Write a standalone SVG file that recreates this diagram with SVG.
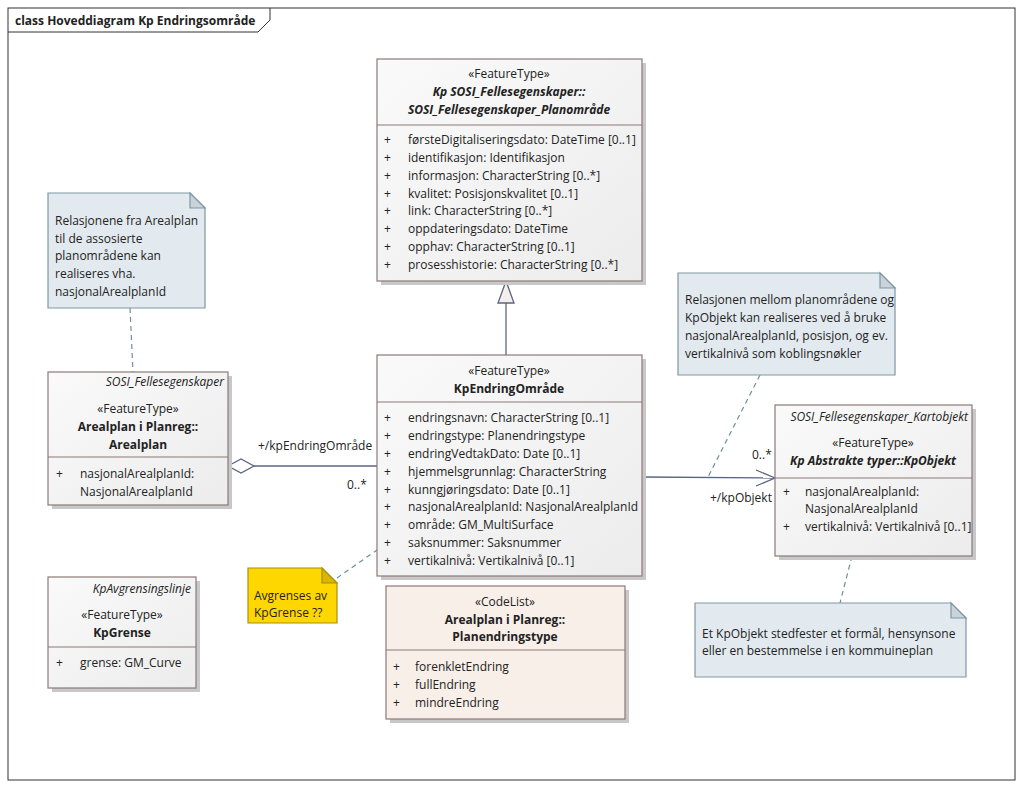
<svg xmlns="http://www.w3.org/2000/svg" width="1023" height="789" viewBox="0 0 1023 789">
<style>
text{font-family:"Open Sans","Liberation Sans",sans-serif;font-size:12px;fill:#222}
.c{text-anchor:middle}
.b{font-weight:bold}
.i{font-style:italic}
.cls{fill:url(#g);stroke:#8c7878;stroke-width:1.2}
.cl2{fill:#f8efe9;stroke:#8c7878;stroke-width:1.2}
.sh{fill:#c8c8c8}
.dv{stroke:#8c7878;stroke-width:1.2}
.note{fill:#e2eaef;stroke:#7e97a3;stroke-width:1.2}
.fold{fill:#c9d3d9;stroke:#7e97a3;stroke-width:1.2}
.dash{stroke:#6f8f9e;stroke-width:1.2;stroke-dasharray:5,4;fill:none}
.ln{stroke:#5a6680;stroke-width:1.3;fill:none}
</style>
<defs>
<linearGradient id="g" x1="0" y1="0" x2="1" y2="1"><stop offset="0" stop-color="#fafafa"/><stop offset="1" stop-color="#ececec"/></linearGradient>
</defs>
<rect width="1023" height="789" fill="#fff"/>
<g id="frame">
<rect x="8" y="8" width="1007" height="772" fill="none" stroke="#333"/>
<path d="M8 32 H258 L270 20 V8" fill="none" stroke="#333"/>
<text x="15" y="25" class="b">class Hoveddiagram Kp Endringsområde</text>
</g>
<g id="connectors">
<path class="ln" d="M506 355 V303"/>
<path d="M506 281 L498 303 H514 Z" fill="#f5efec" stroke="#5a6680" stroke-width="1.3"/>
<path class="ln" d="M254 466 H377"/>
<path d="M228 466 L241 459 L254 466 L241 473 Z" fill="#fff" stroke="#5a6680" stroke-width="1.3"/>
<text x="258" y="450">+/kpEndringOmråde</text>
<text x="347" y="489">0..*</text>
<path class="ln" d="M642 477 L775 478"/>
<path class="ln" d="M756 470 L775 478 L756 486"/>
<text x="752" y="459">0..*</text>
<text x="710" y="502">+/kpObjekt</text>
<path class="dash" d="M130 308 L133 372"/>
<path class="dash" d="M337 578 L377 550"/>
<path class="dash" d="M760 375 L708 477"/>
<path class="dash" d="M852 556 L840 603"/>
</g>
<g id="planomrade">
<rect class="sh" x="381" y="63" width="265" height="222"/>
<rect class="cls" x="377" y="59" width="265" height="222"/>
<line class="dv" x1="377" y1="125" x2="642" y2="125"/>
<text x="509" y="78" class="c">«FeatureType»</text>
<text x="509" y="96" class="c b i">Kp SOSI_Fellesegenskaper::</text>
<text x="509" y="114" class="c b i">SOSI_Fellesegenskaper_Planområde</text>
<g>
<text x="384" y="144">+</text><text x="408" y="144">førsteDigitaliseringsdato: DateTime [0..1]</text>
<text x="384" y="162">+</text><text x="408" y="162">identifikasjon: Identifikasjon</text>
<text x="384" y="180">+</text><text x="408" y="180">informasjon: CharacterString [0..*]</text>
<text x="384" y="198">+</text><text x="408" y="198">kvalitet: Posisjonskvalitet [0..1]</text>
<text x="384" y="215">+</text><text x="408" y="215">link: CharacterString [0..*]</text>
<text x="384" y="233">+</text><text x="408" y="233">oppdateringsdato: DateTime</text>
<text x="384" y="251">+</text><text x="408" y="251">opphav: CharacterString [0..1]</text>
<text x="384" y="269">+</text><text x="408" y="269">prosesshistorie: CharacterString [0..*]</text>
</g>
</g>
<g id="kpendring">
<rect class="sh" x="381" y="359" width="265" height="221"/>
<rect class="cls" x="377" y="355" width="265" height="221"/>
<line class="dv" x1="377" y1="402" x2="642" y2="402"/>
<text x="509" y="375" class="c">«FeatureType»</text>
<text x="509" y="393" class="c b">KpEndringOmråde</text>
<text x="384" y="422">+</text><text x="408" y="422">endringsnavn: CharacterString [0..1]</text>
<text x="384" y="440">+</text><text x="408" y="440">endringstype: Planendringstype</text>
<text x="384" y="458">+</text><text x="408" y="458">endringVedtakDato: Date [0..1]</text>
<text x="384" y="476">+</text><text x="408" y="476">hjemmelsgrunnlag: CharacterString</text>
<text x="384" y="494">+</text><text x="408" y="494">kunngjøringsdato: Date [0..1]</text>
<text x="384" y="511">+</text><text x="408" y="511">nasjonalArealplanId: NasjonalArealplanId</text>
<text x="384" y="529">+</text><text x="408" y="529">område: GM_MultiSurface</text>
<text x="384" y="547">+</text><text x="408" y="547">saksnummer: Saksnummer</text>
<text x="384" y="565">+</text><text x="408" y="565">vertikalnivå: Vertikalnivå [0..1]</text>
</g>
<g id="arealplan">
<rect class="sh" x="52" y="376" width="180" height="133"/>
<rect class="cls" x="48" y="372" width="180" height="133"/>
<line class="dv" x1="48" y1="457" x2="228" y2="457"/>
<text x="224" y="386" class="i" text-anchor="end" fill="#555">SOSI_Fellesegenskaper</text>
<text x="138" y="413" class="c">«FeatureType»</text>
<text x="138" y="431" class="c b">Arealplan i Planreg::</text>
<text x="138" y="449" class="c b">Arealplan</text>
<text x="56" y="478">+</text><text x="80" y="478">nasjonalArealplanId:</text>
<text x="80" y="496">NasjonalArealplanId</text>
</g>
<g id="kpgrense">
<rect class="sh" x="52" y="581" width="148" height="111"/>
<rect class="cls" x="48" y="577" width="148" height="111"/>
<line class="dv" x1="48" y1="647" x2="196" y2="647"/>
<text x="191" y="593" class="i" text-anchor="end" fill="#555">KpAvgrensingslinje</text>
<text x="122" y="619" class="c">«FeatureType»</text>
<text x="122" y="637" class="c b">KpGrense</text>
<text x="56" y="667">+</text><text x="80" y="667">grense: GM_Curve</text>
</g>
<g id="planendringstype">
<rect class="sh" x="390" y="590" width="239" height="133"/>
<rect class="cl2" x="386" y="586" width="239" height="133"/>
<line class="dv" x1="386" y1="650" x2="625" y2="650"/>
<text x="505" y="606" class="c">«CodeList»</text>
<text x="505" y="624" class="c b">Arealplan i Planreg::</text>
<text x="505" y="641" class="c b">Planendringstype</text>
<text x="393" y="671">+</text><text x="415" y="671">forenkletEndring</text>
<text x="393" y="689">+</text><text x="415" y="689">fullEndring</text>
<text x="393" y="707">+</text><text x="415" y="707">mindreEndring</text>
</g>
<g id="kpobjekt">
<rect class="sh" x="779" y="409" width="197" height="151"/>
<rect class="cls" x="775" y="405" width="197" height="151"/>
<line class="dv" x1="775" y1="478" x2="972" y2="478"/>
<text x="968" y="421" class="i" text-anchor="end" fill="#555">SOSI_Fellesegenskaper_Kartobjekt</text>
<text x="873" y="447" class="c">«FeatureType»</text>
<text x="873" y="465" class="c b i">Kp Abstrakte typer::KpObjekt</text>
<text x="783" y="496">+</text><text x="805" y="496">nasjonalArealplanId:</text>
<text x="805" y="513">NasjonalArealplanId</text>
<text x="783" y="531">+</text><text x="805" y="531">vertikalnivå: Vertikalnivå [0..1]</text>
</g>
<g id="note1">
<path class="note" d="M48 193 H190 L205 208 V308 H48 Z"/>
<path class="fold" d="M190 193 V208 H205 Z"/>
<text x="55" y="225">Relasjonene fra Arealplan</text>
<text x="55" y="243">til de assosierte</text>
<text x="55" y="260">planområdene kan</text>
<text x="55" y="278">realiseres vha.</text>
<text x="55" y="296">nasjonalArealplanId</text>
</g>
<g id="note2">
<path d="M248 568 H322 L337 583 V623 H248 Z" fill="#ffd700" stroke="#a89010" stroke-width="1.2"/>
<path d="M322 568 V583 H337 Z" fill="#d9b700" stroke="#a89010" stroke-width="1.2"/>
<text x="254" y="600">Avgrenses av</text>
<text x="254" y="617">KpGrense ??</text>
</g>
<g id="note3">
<path class="note" d="M678 273 H880 L895 288 V375 H678 Z"/>
<path class="fold" d="M880 273 V288 H895 Z"/>
<text x="685" y="304">Relasjonen mellom planområdene og</text>
<text x="685" y="322">KpObjekt kan realiseres ved å bruke</text>
<text x="685" y="340">nasjonalArealplanId, posisjon, og ev.</text>
<text x="685" y="358">vertikalnivå som koblingsnøkler</text>
</g>
<g id="note4">
<path class="note" d="M695 603 H951 L966 618 V677 H695 Z"/>
<path class="fold" d="M951 603 V618 H966 Z"/>
<text x="702" y="638">Et KpObjekt stedfester et formål, hensynsone</text>
<text x="702" y="655">eller en bestemmelse i en kommuineplan</text>
</g>
</svg>
